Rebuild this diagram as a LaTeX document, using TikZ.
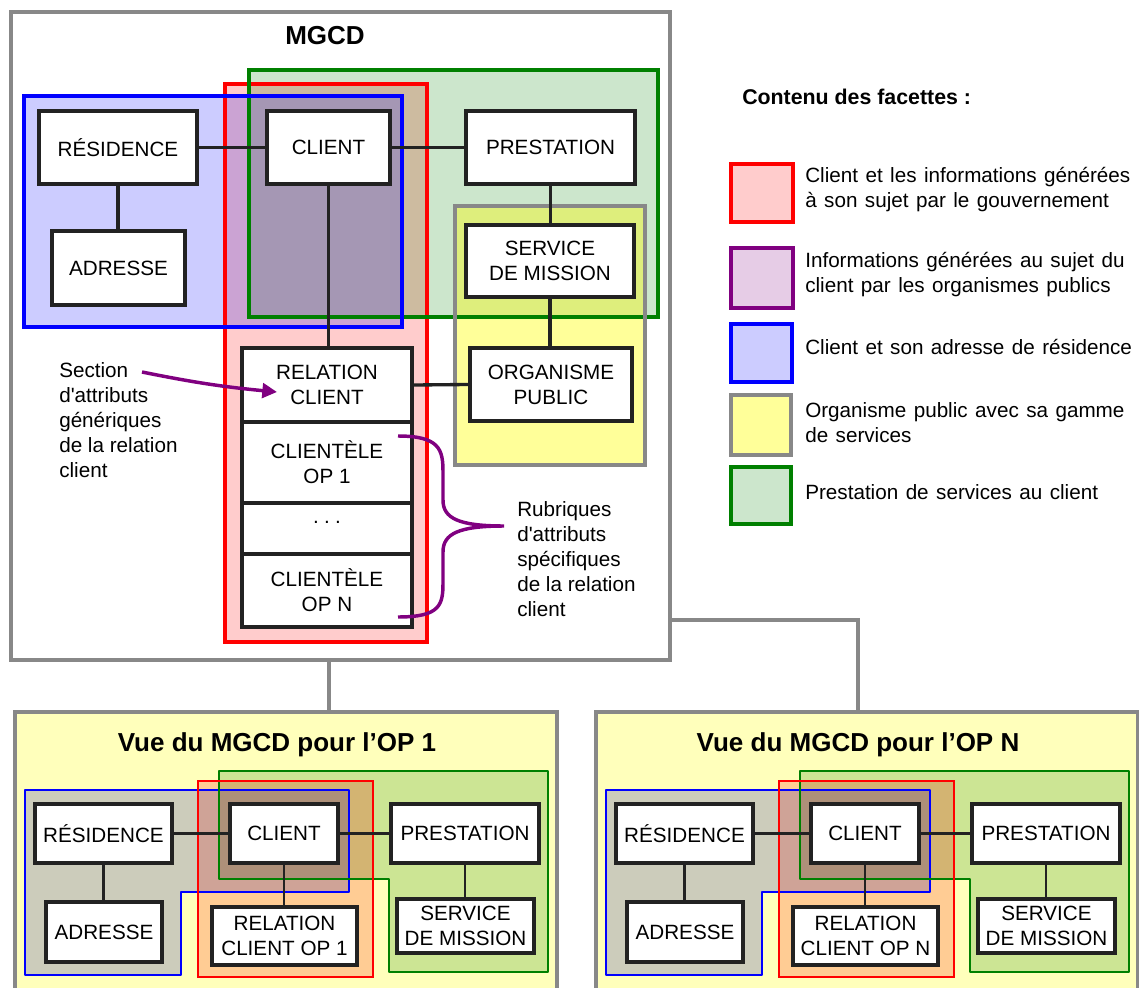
\documentclass[tikz,border=0pt]{standalone}
\usepackage{fontspec}
\setmainfont{Liberation Sans}
\usetikzlibrary{arrows.meta}
\definecolor{cBlue}{HTML}{CCCCFF}
\definecolor{cRed}{HTML}{FFCCCC}
\definecolor{cGreen}{HTML}{CCE6CC}
\definecolor{cYellow}{HTML}{FFFF99}
\definecolor{cBR}{HTML}{CBA3D3}
\definecolor{cRG}{HTML}{CDBBA0}
\definecolor{cBRG}{HTML}{A597B4}
\definecolor{cGY}{HTML}{DEEE7C}
\definecolor{cPurpleFill}{HTML}{E6CCE6}
\definecolor{lBlue}{HTML}{0000FF}
\definecolor{lRed}{HTML}{FF0000}
\definecolor{lGreen}{HTML}{008000}
\definecolor{lGray}{HTML}{888888}
\definecolor{lPurple}{HTML}{800080}
\definecolor{nBorder}{HTML}{222222}
\definecolor{pYel}{HTML}{FFFFBB}
\definecolor{pB}{HTML}{CCCCBB}
\definecolor{pR}{HTML}{FFCC94}
\definecolor{pG}{HTML}{CCE594}
\definecolor{pBR}{HTML}{CFA397}
\definecolor{pRG}{HTML}{D3B472}
\definecolor{pBRG}{HTML}{AE9079}
\newcommand\myNodeFont{\fontsize{15.5}{18.8}\selectfont}
\newcommand\myLegFont{\fontsize{15.5}{18.8}\selectfont\spaceskip=0.36em plus 0.1em minus 0.05em\relax}
\newcommand\myBox[6]{\node[nbox,minimum width=#4*0.75pt,minimum height=#5*0.75pt] (#1) at (#2,#3) {#6};}
\newcommand\mySmallBox[6]{\node[nbox,line width=2.3pt,minimum width=#4*0.75pt,minimum height=#5*0.75pt] (#1) at (#2,#3) {#6};}
\newcommand\vuePanel[3]{%
\begin{scope}[xshift=#2]
\draw[frame, fill=pYel] (15,712) rectangle (557,1000);
\node[vtitle] (#1title) at (277,745) {Vue du MGCD pour l’OP #3};
\fill[pB] (25,790) -- (349,790) -- (349,892) -- (181,892) -- (181,975) -- (25,975) -- cycle;
\fill[pG] (219,771) -- (548,771) -- (548,972) -- (389,972) -- (389,879) -- (219,879) -- cycle;
\fill[pR] (198,781) rectangle (373,977);
\fill[pBR] (198,790) rectangle (349,892);
\fill[pRG] (219,781) rectangle (373,879);
\fill[pBRG] (219,790) rectangle (349,879);
\draw[lBlue, line width=1.9pt, line join=round] (25,790) -- (349,790) -- (349,892) -- (181,892) -- (181,975) -- (25,975) -- cycle;
\draw[lGreen, line width=1.9pt, line join=round] (219,771) -- (548,771) -- (548,972) -- (389,972) -- (389,879) -- (219,879) -- cycle;
\draw[lRed, line width=2.2pt] (198,781) rectangle (373,977);
\mySmallBox{#1res}{103.5}{833.5}{137}{59}{RÉSIDENCE}
\mySmallBox{#1cli}{284}{833.5}{108}{59}{CLIENT}
\mySmallBox{#1pre}{465}{833.5}{148}{59}{PRESTATION}
\mySmallBox{#1adr}{104}{932}{116}{60}{ADRESSE}
\mySmallBox{#1rel}{284.5}{936}{145}{58}{RELATION\\CLIENT OP #3}
\mySmallBox{#1srv}{465.5}{926}{137}{54}{SERVICE\\DE MISSION}
\draw[link, line width=2.1pt] (#1res.east) -- (#1cli.west);
\draw[link, line width=2.1pt] (#1cli.east) -- (#1pre.west);
\draw[link, line width=2.1pt] (#1res.south) -- (#1res.south |- #1adr.north);
\draw[link, line width=2.1pt] (#1cli.south) -- (#1cli.south |- #1rel.north);
\draw[link, line width=2.1pt] (#1pre.south) -- (#1pre.south |- #1srv.north);
\end{scope}}
\begin{document}
\begin{tikzpicture}[x=0.75pt,y=-0.75pt,
  nbox/.style={draw=nBorder, line width=2.7pt, fill=white, inner sep=0pt, align=center, font=\myNodeFont},
  link/.style={draw=nBorder, line width=2.5pt},
  frame/.style={draw=lGray, line width=2.5pt},
  txt/.style={inner sep=0pt, align=left, font=\myNodeFont},
  legtxt/.style={inner sep=0pt, align=left, font=\myLegFont},
  vtitle/.style={inner sep=0pt, font=\fontsize{19.5}{22}\selectfont\bfseries},
  facet/.style={line width=2.3pt},
  swatch/.style={line width=2.6pt},
  purpleline/.style={draw=lPurple, line width=2.6pt}]
\useasboundingbox[fill=white] (0,0) rectangle (1139,988);
% connectors between MGCD and views
\coordinate (mgcdB) at (329,660);
\coordinate (v1T) at (329,712);
\coordinate (mgcdR) at (670,620);
\coordinate (vNT) at (858,712);
\draw[frame] (mgcdB) -- (v1T);
\draw[frame] (mgcdR) -| (vNT);
% MGCD frame
\draw[frame, fill=white] (11,12) rectangle (670,660);
\node[vtitle] (mgcdtitle) at (325,36) {MGCD};
% facet fills
\fill[cBlue] (24,96) rectangle (402,327);
\fill[cRed] (225,84) rectangle (427,642);
\fill[cGreen] (249,70) rectangle (658,317);
\fill[cYellow] (455,206) rectangle (645,465);
\begin{scope}
\clip (225,84) rectangle (427,642);
\fill[cBR] (24,96) rectangle (402,327);
\fill[cRG] (249,70) rectangle (658,317);
\clip (24,96) rectangle (402,327);
\fill[cBRG] (249,70) rectangle (658,317);
\end{scope}
\begin{scope}
\clip (455,206) rectangle (645,465);
\fill[cGY] (249,70) rectangle (658,317);
\end{scope}
\draw[facet, lRed] (225,84) rectangle (427,642);
\draw[facet, lGreen] (249,70) rectangle (658,317);
\draw[facet, lBlue] (24,96) rectangle (402,327);
\draw[facet, lGray] (455,206) rectangle (645,465);
% nodes
\myBox{res}{118}{147.5}{158}{73}{RÉSIDENCE}
\myBox{cli}{328.5}{147.5}{123}{73}{CLIENT}
\myBox{pre}{550.5}{147.5}{169}{73}{PRESTATION}
\myBox{adr}{118.5}{268}{133}{74}{ADRESSE}
\myBox{srv}{550}{261}{168}{72}{SERVICE\\DE MISSION}
\myBox{rel}{327}{385}{170}{74}{RELATION\\CLIENT}
\myBox{org}{551}{384.5}{162}{73}{ORGANISME\\PUBLIC}
\myBox{opa}{327}{462.5}{170}{81}{CLIENTÈLE\\OP 1}
\myBox{dots}{327}{528.5}{170}{51}{\raisebox{9pt}{.\hspace{4pt}.\hspace{4pt}.}}
\myBox{opn}{327}{590.5}{170}{73}{CLIENTÈLE\\OP N}
% links
\draw[link] (res.east) -- (cli.west);
\draw[link] (cli.east) -- (pre.west);
\draw[link] (res.south) -- (res.south |- adr.north);
\draw[link] (cli.south) -- (cli.south |- rel.north);
\draw[link] (pre.south) -- (pre.south |- srv.north);
\draw[link] (srv.south) -- (srv.south |- org.north);
\draw[link] (rel.east) -- (org.west);
% annotations
\node[txt, anchor=west] (sec) at (59,420) {Section\\d\textquotesingle attributs\\génériques\\de la relation\\client};
\coordinate (secA) at (142,372);
\coordinate (secB) at (277,392);
\draw[purpleline, -{Triangle[length=11pt,width=11pt]}] (secA) to[bend right=3] (secB);
\coordinate (brT) at (398,436);
\coordinate (brTip) at (504,526);
\coordinate (brB) at (398,617);
\draw[purpleline] (brT) .. controls (440,436) and (443,450) .. (443,472) -- (443,500) .. controls (443,518) and (458,526) .. (brTip) .. controls (458,526) and (443,534) .. (443,552) -- (443,583) .. controls (443,605) and (440,617) .. (brB);
\node[txt, anchor=west] (rub) at (517,559) {Rubriques\\d\textquotesingle attributs\\spécifiques\\de la relation\\client};
% legend
\node[inner sep=0pt, anchor=west, font=\fontsize{16}{19}\selectfont\bfseries] (legtitle) at (742,97) {Contenu des facettes :};
\draw[swatch, lRed, fill=cRed] (731,164) rectangle (793,222);
\draw[swatch, lPurple, fill=cPurpleFill] (731,248) rectangle (793,308);
\draw[swatch, lBlue, fill=cBlue] (731,324) rectangle (792,382);
\draw[swatch, lGray, fill=cYellow] (731,395) rectangle (791,455);
\draw[swatch, lGreen, fill=cGreen] (731,467) rectangle (791,524);
\node[legtxt, anchor=west] (leg1) at (805,189.5) {Client et les informations générées\\à son sujet par le gouvernement};
\node[legtxt, anchor=west] (leg2) at (805,275) {Informations générées au sujet du\\client par les organismes publics};
\node[legtxt, anchor=west] (leg3) at (805,347) {Client et son adresse de résidence};
\node[legtxt, anchor=west] (leg4) at (805,422.5) {Organisme public avec sa gamme\\de services};
\node[legtxt, anchor=west] (leg5) at (805,492) {Prestation de services au client};
% views
\vuePanel{va}{0pt}{1}
\vuePanel{vb}{435.75pt}{N}
\end{tikzpicture}
\end{document}
